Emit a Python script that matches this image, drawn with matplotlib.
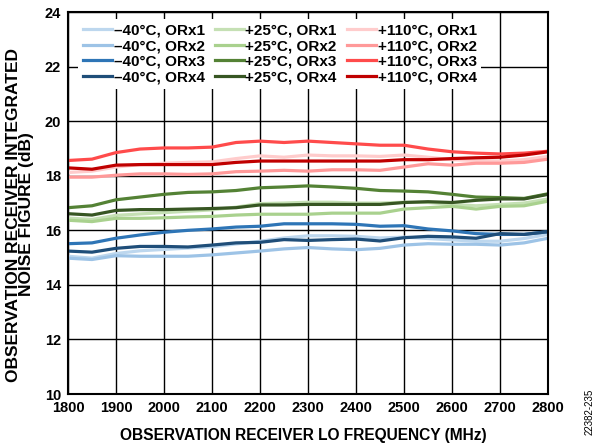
import matplotlib
matplotlib.use("Agg")
import matplotlib.pyplot as plt
import numpy as np

plt.rcParams['font.family'] = ['Liberation Sans', 'DejaVu Sans']
plt.rcParams['font.weight'] = 'bold'

freq = np.arange(1800, 2801, 50)

# -40°C
m40_orx1 = [15.05, 14.98, 15.15, 15.25, 15.30, 15.35, 15.40, 15.50, 15.60, 15.72, 15.80,
            15.80, 15.78, 15.72, 15.75, 15.70, 15.65, 15.60, 15.60, 15.70, 15.85]
m40_orx2 = [14.98, 14.93, 15.07, 15.05, 15.05, 15.05, 15.10, 15.17, 15.24, 15.32, 15.37,
            15.32, 15.29, 15.34, 15.46, 15.51, 15.49, 15.49, 15.46, 15.54, 15.71]
m40_orx3 = [15.51, 15.54, 15.71, 15.83, 15.93, 16.00, 16.05, 16.12, 16.15, 16.24, 16.24,
            16.24, 16.22, 16.15, 16.17, 16.05, 15.98, 15.88, 15.85, 15.85, 15.95]
m40_orx4 = [15.24, 15.20, 15.34, 15.41, 15.41, 15.39, 15.46, 15.54, 15.56, 15.66, 15.63,
            15.66, 15.68, 15.61, 15.73, 15.78, 15.76, 15.71, 15.88, 15.85, 15.95]
# +25°C
p25_orx1 = [16.45, 16.40, 16.55, 16.60, 16.65, 16.70, 16.75, 16.85, 16.98, 17.00, 17.03,
            17.03, 17.00, 17.00, 17.03, 17.02, 16.95, 16.90, 16.95, 17.00, 17.15]
p25_orx2 = [16.37, 16.32, 16.44, 16.44, 16.46, 16.49, 16.51, 16.56, 16.59, 16.59, 16.59,
            16.63, 16.63, 16.63, 16.78, 16.83, 16.88, 16.78, 16.88, 16.90, 17.07]
p25_orx3 = [16.83, 16.90, 17.12, 17.22, 17.32, 17.39, 17.41, 17.46, 17.56, 17.59, 17.63,
            17.59, 17.54, 17.46, 17.44, 17.41, 17.32, 17.22, 17.20, 17.17, 17.34]
p25_orx4 = [16.61, 16.56, 16.73, 16.76, 16.76, 16.78, 16.80, 16.83, 16.93, 16.93, 16.95,
            16.95, 16.95, 16.95, 17.02, 17.05, 17.02, 17.10, 17.15, 17.15, 17.32]
# +110°C
p110_orx1 = [18.12, 18.17, 18.32, 18.41, 18.46, 18.49, 18.51, 18.63, 18.73, 18.68, 18.76,
             18.73, 18.73, 18.71, 18.76, 18.68, 18.59, 18.56, 18.54, 18.59, 18.71]
p110_orx2 = [17.95, 17.95, 18.02, 18.07, 18.07, 18.05, 18.07, 18.15, 18.17, 18.20, 18.17,
             18.22, 18.22, 18.20, 18.32, 18.44, 18.39, 18.46, 18.46, 18.49, 18.61]
p110_orx3 = [18.56, 18.61, 18.85, 18.98, 19.02, 19.02, 19.05, 19.22, 19.27, 19.22, 19.27,
             19.22, 19.17, 19.12, 19.12, 18.98, 18.88, 18.83, 18.80, 18.83, 18.90]
p110_orx4 = [18.29, 18.24, 18.39, 18.41, 18.41, 18.41, 18.41, 18.49, 18.54, 18.54, 18.54,
             18.54, 18.54, 18.54, 18.59, 18.59, 18.63, 18.66, 18.68, 18.76, 18.88]

series = [
    ('\u201340°C, ORx1', m40_orx1, '#bdd7ee'),
    ('\u201340°C, ORx2', m40_orx2, '#9dc3e6'),
    ('\u201340°C, ORx3', m40_orx3, '#2e75b6'),
    ('\u201340°C, ORx4', m40_orx4, '#1f4e79'),
    ('+25°C, ORx1', p25_orx1, '#c5e0b4'),
    ('+25°C, ORx2', p25_orx2, '#a9d18e'),
    ('+25°C, ORx3', p25_orx3, '#548235'),
    ('+25°C, ORx4', p25_orx4, '#375623'),
    ('+110°C, ORx1', p110_orx1, '#ffcccc'),
    ('+110°C, ORx2', p110_orx2, '#ff9999'),
    ('+110°C, ORx3', p110_orx3, '#ff4b4b'),
    ('+110°C, ORx4', p110_orx4, '#c00000'),
]

fig = plt.figure(figsize=(5.99, 4.48), dpi=100)
ax = fig.add_axes([0.1135, 0.1205, 0.8015, 0.8525])

for label, vals, color in series:
    ax.plot(freq, vals, color=color, lw=2.3, label=label)

ax.set_xlim(1800, 2800)
ax.set_ylim(10, 24)
ax.set_xticks(np.arange(1800, 2801, 100))
ax.set_yticks(np.arange(10, 25, 2))
ax.grid(True, color='black', lw=1)
ax.set_axisbelow(True)
ax.tick_params(length=0, labelsize=10.5, pad=5)
for lab in ax.get_xticklabels() + ax.get_yticklabels():
    lab.set_fontweight('bold')
for sp in ax.spines.values():
    sp.set_linewidth(1.5)

ax.set_xlabel('OBSERVATION RECEIVER LO FREQUENCY (MHz)', fontsize=11.2, fontweight='bold')
ax.xaxis.set_label_coords(0.49, -0.09)
ax.set_ylabel('OBSERVATION RECEIVER INTEGRATED\nNOISE FIGURE (dB)', fontsize=12.5,
              fontweight='bold', linespacing=0.85)
ax.yaxis.set_label_coords(-0.071, 0.47)

leg = ax.legend(ncol=3, loc='upper left', bbox_to_anchor=(0.015, 0.99), frameon=True,
                fancybox=False, edgecolor='none', framealpha=1, fontsize=11,
                handlelength=1.9, handletextpad=0.12, columnspacing=0.65,
                labelspacing=0.1, borderpad=0.3, borderaxespad=0.2)
for t in leg.get_texts():
    t.set_fontweight('bold')

fig.text(0.985, 0.08, '22382-235', rotation=90, fontsize=7, fontweight='normal',
         ha='center', va='center')

plt.savefig('out.png', dpi=100)
